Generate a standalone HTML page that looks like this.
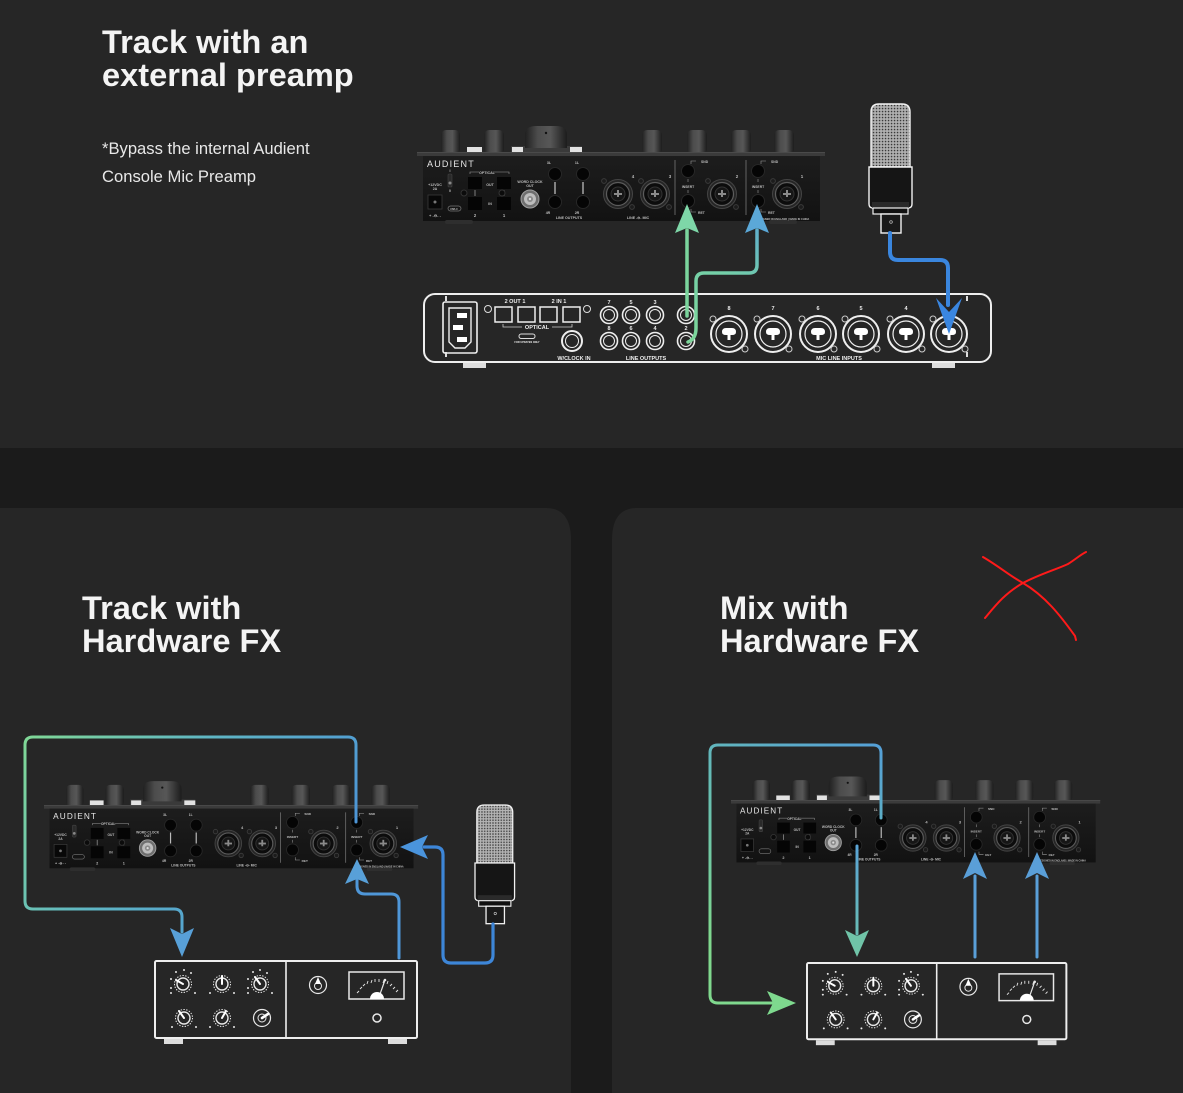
<!DOCTYPE html>
<html><head><meta charset="utf-8"><style>
html,body{margin:0;padding:0;background:#1b1b1b;}
svg{display:block;}
.dt{font-family:"Liberation Sans",sans-serif;font-weight:bold;fill:#bdbdbd;}
.wt{font-family:"Liberation Sans",sans-serif;font-weight:bold;fill:#eeeeee;}
</style></head><body>
<svg width="1183" height="1093" viewBox="0 0 1183 1093" xmlns="http://www.w3.org/2000/svg">
<defs>
  <linearGradient id="kg" x1="0" y1="0" x2="1" y2="0">
    <stop offset="0" stop-color="#202020"/><stop offset="0.3" stop-color="#4c4c4c"/>
    <stop offset="0.6" stop-color="#575757"/><stop offset="1" stop-color="#1c1c1c"/>
  </linearGradient>
  <linearGradient id="bodyg" x1="0" y1="0" x2="0" y2="1">
    <stop offset="0" stop-color="#1d1d1d"/><stop offset="1" stop-color="#121212"/>
  </linearGradient>
  <pattern id="mesh" width="3" height="3" patternUnits="userSpaceOnUse">
    <rect width="3" height="3" fill="#b5b5b5"/><rect x="0.8" y="0.8" width="1.5" height="1.5" fill="#3a3a3a"/>
  </pattern>
  <linearGradient id="gTop2" gradientUnits="userSpaceOnUse" x1="696" y1="340" x2="757" y2="210">
    <stop offset="0" stop-color="#7cd69a"/><stop offset="0.5" stop-color="#74cfa8"/><stop offset="1" stop-color="#5aa6d8"/>
  </linearGradient>
  <linearGradient id="gBL" gradientUnits="userSpaceOnUse" x1="25" y1="737" x2="300" y2="930">
    <stop offset="0" stop-color="#80d896"/><stop offset="0.45" stop-color="#5fb6c4"/><stop offset="1" stop-color="#4b92d8"/>
  </linearGradient>
  <linearGradient id="gBR" gradientUnits="userSpaceOnUse" x1="740" y1="960" x2="885" y2="745">
    <stop offset="0" stop-color="#80d98e"/><stop offset="0.5" stop-color="#66bdb4"/><stop offset="1" stop-color="#549fd8"/>
  </linearGradient>
  <linearGradient id="g4R" gradientUnits="userSpaceOnUse" x1="857" y1="846" x2="857" y2="957">
    <stop offset="0" stop-color="#5aa4d6"/><stop offset="1" stop-color="#6cc2ac"/>
  </linearGradient>

  <g id="xlrD">
    <circle r="14.5" fill="#252525" stroke="#444" stroke-width="1"/>
    <circle r="11.5" fill="#0c0c0c" stroke="#5c5c5c" stroke-width="1.2"/>
    <circle r="7" fill="#161616" stroke="#333"/>
    <rect x="-4" y="-1" width="8" height="2" fill="#8a8a8a"/>
    <rect x="-1" y="-4" width="2" height="7" fill="#8a8a8a"/>
    <circle cx="-14" cy="-13" r="2.4" fill="#1c1c1c" stroke="#3a3a3a"/>
    <circle cx="14" cy="13" r="2.4" fill="#1c1c1c" stroke="#3a3a3a"/>
  </g>
  <g id="xlrW">
    <circle r="18" fill="none" stroke="#eee" stroke-width="2"/>
    <circle r="13" fill="none" stroke="#eee" stroke-width="1.2"/>
    <path d="M-7,-2 Q-7,-6 -3,-6 H3 Q7,-6 7,-2 Q7,1 3,1 H1.5 V6 H-1.5 V1 H-3 Q-7,1 -7,-2 Z" fill="#fff"/>
    <circle cx="-16" cy="-15" r="3" fill="none" stroke="#ccc" stroke-width="1"/>
    <circle cx="16" cy="15" r="3" fill="none" stroke="#ccc" stroke-width="1"/>
  </g>
  <g id="jackW">
    <circle r="8.5" fill="none" stroke="#eee" stroke-width="1.6"/>
    <circle r="5.5" fill="none" stroke="#eee" stroke-width="1"/>
  </g>

  <g id="devS">
    <rect x="24" y="-22" width="19" height="24" rx="5" fill="url(#kg)"/>
    <rect x="67" y="-22" width="20" height="24" rx="5" fill="url(#kg)"/>
    <rect x="225" y="-22" width="20" height="24" rx="5" fill="url(#kg)"/>
    <rect x="270" y="-22" width="20" height="24" rx="5" fill="url(#kg)"/>
    <rect x="314" y="-22" width="20" height="24" rx="5" fill="url(#kg)"/>
    <rect x="357" y="-22" width="20" height="24" rx="5" fill="url(#kg)"/>
    <rect x="94" y="-6" width="71" height="6" fill="#3a3a3a"/>
    <rect x="50" y="-5" width="15" height="5" fill="#e2e2e2"/>
    <rect x="95" y="-5" width="11" height="5" fill="#e2e2e2"/>
    <rect x="153" y="-5" width="12" height="5" fill="#e2e2e2"/>
    <path d="M108,-4 V-17 Q108,-26 119,-26 H139 Q150,-26 150,-17 V-4 Z" fill="url(#kg)"/>
    <circle cx="129" cy="-19" r="1.2" fill="#111"/>
    <rect x="0" y="0" width="408" height="4" fill="#3b3b3b"/>
    <rect x="0" y="0" width="408" height="1" fill="#4a4a4a"/>
    <rect x="6" y="4" width="397" height="65" fill="url(#bodyg)"/>
    <rect x="28" y="68" width="28" height="4" rx="2" fill="#2e2e2e"/>
    <rect x="352" y="68" width="28" height="4" rx="2" fill="#2e2e2e"/>
    <rect x="11" y="43" width="14" height="14" fill="#080808" stroke="#3a3a3a" stroke-width="0.8"/>
    <circle cx="18" cy="50" r="1.5" fill="#777"/>
    <rect x="31" y="22" width="4" height="13" rx="1" fill="#2a2a2a" stroke="#444" stroke-width="0.6"/>
    <circle cx="33" cy="31" r="1.5" fill="#888"/>
    <rect x="31" y="54" width="13" height="5" rx="2.5" fill="none" stroke="#777" stroke-width="0.7"/>
    <rect x="51" y="25" width="14" height="12" fill="#050505"/>
    <rect x="80" y="25" width="14" height="12" fill="#050505"/>
    <rect x="51" y="45" width="14" height="13" fill="#050505"/>
    <rect x="80" y="45" width="14" height="13" fill="#050505"/>
    <line x1="58" y1="38" x2="58" y2="44" stroke="#999" stroke-width="0.8"/>
    <line x1="87" y1="38" x2="87" y2="44" stroke="#999" stroke-width="0.8"/>
    <path d="M53,22 V20 H62 M77,20 H92 V22" fill="none" stroke="#999" stroke-width="0.6"/>
    <circle cx="47" cy="41" r="3" fill="#0b0b0b" stroke="#333"/>
    <circle cx="85" cy="41" r="3" fill="#0b0b0b" stroke="#333"/>
    <circle cx="113" cy="47" r="9" fill="#6f6f6f" stroke="#a0a0a0"/>
    <circle cx="113" cy="47" r="6" fill="#bdbdbd"/>
    <circle cx="113" cy="47" r="3" fill="#8a8a8a"/>
    <circle cx="113" cy="47" r="1.2" fill="#ddd"/>
    <circle cx="138" cy="22" r="6.5" fill="#050505" stroke="#272727"/>
    <circle cx="138" cy="50" r="6.5" fill="#050505" stroke="#272727"/>
    <circle cx="166" cy="22" r="6.5" fill="#050505" stroke="#272727"/>
    <circle cx="166" cy="50" r="6.5" fill="#050505" stroke="#272727"/>
    <line x1="138" y1="30" x2="138" y2="42" stroke="#bbb" stroke-width="1.3"/>
    <line x1="166" y1="30" x2="166" y2="42" stroke="#bbb" stroke-width="1.3"/>
    <use href="#xlrD" x="201" y="42"/>
    <use href="#xlrD" x="238" y="42"/>
    <use href="#xlrD" x="305" y="42"/>
    <use href="#xlrD" x="370" y="42"/>
    <line x1="258" y1="8" x2="258" y2="63" stroke="#777" stroke-width="0.8"/>
    <line x1="329" y1="8" x2="329" y2="63" stroke="#777" stroke-width="0.8"/>
    <circle cx="271" cy="19" r="6.5" fill="#050505" stroke="#272727"/>
    <circle cx="271" cy="49" r="6.5" fill="#050505" stroke="#272727"/>
    <circle cx="341" cy="19" r="6.5" fill="#050505" stroke="#272727"/>
    <circle cx="341" cy="49" r="6.5" fill="#050505" stroke="#272727"/>
    <path d="M274,12 V9 H279 M271,27 V30 M271,38 V41 M274,57 V60 H279" fill="none" stroke="#999" stroke-width="0.6"/>
    <path d="M344,12 V9 H349 M341,27 V30 M341,38 V41 M344,57 V60 H349" fill="none" stroke="#999" stroke-width="0.6"/>
  </g>

  <g id="fx">
    <rect x="0" y="0" width="262" height="77" rx="1.5" fill="none" stroke="#eee" stroke-width="2"/>
    <line x1="131" y1="0" x2="131" y2="77" stroke="#eee" stroke-width="1.6"/>
    <rect x="9" y="78" width="19" height="5" fill="#dcdcdc"/>
    <rect x="233" y="78" width="19" height="5" fill="#dcdcdc"/>
    <g fill="none" stroke="#e8e8e8">
      <circle cx="28" cy="23" r="8.5" stroke-dasharray="1.4 1.4" stroke-width="1"/>
      <circle cx="28" cy="23" r="6" stroke-width="1.4"/>
      <circle cx="67" cy="23" r="8.5" stroke-dasharray="1.4 1.4" stroke-width="1"/>
      <circle cx="67" cy="23" r="6" stroke-width="1.4"/>
      <circle cx="105" cy="23" r="8.5" stroke-dasharray="1.4 1.4" stroke-width="1"/>
      <circle cx="105" cy="23" r="6" stroke-width="1.4"/>
      <circle cx="29" cy="57" r="8.5" stroke-dasharray="1.4 1.4" stroke-width="1"/>
      <circle cx="29" cy="57" r="6" stroke-width="1.4"/>
      <circle cx="67" cy="57" r="8.5" stroke-dasharray="1.4 1.4" stroke-width="1"/>
      <circle cx="67" cy="57" r="6" stroke-width="1.4"/>
      <circle cx="107" cy="57" r="8.5" stroke-width="1.2"/>
      <circle cx="107" cy="57" r="4" stroke-width="1"/>
      <circle cx="163" cy="24" r="8.5" stroke-width="1.2"/>
      <circle cx="163" cy="25" r="3.5" stroke-width="1"/>
      <rect x="194" y="11" width="55" height="27" stroke-width="1.5"/>
      <circle cx="222" cy="57" r="4" stroke-width="1.5"/>
    </g>
    <g stroke="#ffffff" stroke-width="2" stroke-linecap="round">
      <line x1="28" y1="23" x2="21" y2="19"/>
      <line x1="67" y1="23" x2="67" y2="15"/>
      <line x1="105" y1="23" x2="100" y2="16"/>
      <line x1="29" y1="57" x2="24" y2="50"/>
      <line x1="67" y1="57" x2="71" y2="50"/>
      <line x1="107" y1="57" x2="113" y2="53" stroke-width="2.6"/>
    </g>
    <path d="M163,16 L160,23 H166 Z" fill="#fff"/>
    <g fill="#e8e8e8">
      <circle cx="16" cy="18" r="1"/><circle cx="16" cy="27" r="1"/><circle cx="21" cy="11" r="1"/><circle cx="29" cy="9" r="1"/><circle cx="36" cy="12" r="1"/><circle cx="40" cy="32" r="1"/><circle cx="16" cy="32" r="1"/>
      <circle cx="55" cy="32" r="1"/><circle cx="79" cy="32" r="1"/>
      <circle cx="93" cy="18" r="1"/><circle cx="93" cy="27" r="1"/><circle cx="98" cy="11" r="1"/><circle cx="105" cy="9" r="1"/><circle cx="112" cy="12" r="1"/><circle cx="117" cy="32" r="1"/><circle cx="93" cy="32" r="1"/>
      <circle cx="17" cy="66" r="1"/><circle cx="41" cy="66" r="1"/>
      <circle cx="55" cy="66" r="1"/><circle cx="79" cy="66" r="1"/>
    </g>
    <g stroke="#e8e8e8" stroke-width="0.9">
      <line x1="202" y1="32" x2="204" y2="30"/><line x1="205" y1="28" x2="207" y2="26"/><line x1="208" y1="25" x2="210" y2="23"/>
      <line x1="212" y1="23" x2="213" y2="20"/><line x1="216" y1="22" x2="217" y2="19"/><line x1="220" y1="21" x2="220" y2="18"/>
      <line x1="224" y1="21" x2="224" y2="18"/><line x1="228" y1="22" x2="229" y2="19"/><line x1="232" y1="23" x2="233" y2="20"/>
      <line x1="235" y1="25" x2="237" y2="23"/><line x1="238" y1="28" x2="240" y2="26"/><line x1="241" y1="31" x2="243" y2="29"/>
      <line x1="224" y1="36" x2="230" y2="19" stroke-width="1.2"/>
    </g>
    <circle cx="230" cy="19" r="1.3" fill="#e8e8e8"/>
    <path d="M215,38 A7,7 0 0 1 229,38 Z" fill="#fff"/>
  </g>

  <g id="mic">
    <path d="M2,63 V8 Q2,0 10,0 H33 Q41,0 41,8 V63 Z" fill="url(#mesh)" stroke="#f2f2f2" stroke-width="1.4"/>
    <path d="M0,63 H43 V100 Q43,104 39,104 H4 Q0,104 0,100 Z" fill="#151515" stroke="#f2f2f2" stroke-width="1.4"/>
    <rect x="3" y="98" width="37" height="6" fill="#2a2a2a"/>
    <rect x="4" y="104" width="35" height="6" fill="#111" stroke="#f2f2f2" stroke-width="1.2"/>
    <rect x="12" y="110" width="20" height="19" fill="#1a1a1a" stroke="#f2f2f2" stroke-width="1.4"/>
    <circle cx="22" cy="118" r="1.3" fill="none" stroke="#ccc" stroke-width="0.7"/>
  </g>
</defs>

<rect x="0" y="0" width="1183" height="1093" fill="#1b1b1b"/>
<rect x="0" y="0" width="1183" height="448" fill="#262626"/>
<path d="M0,508 H546 Q571,508 571,540 V1093 H0 Z" fill="#262626"/>
<path d="M637,508 H1183 V1093 H612 V540 Q612,508 637,508 Z" fill="#262626"/>

<g font-family="Liberation Sans, sans-serif" font-weight="bold" font-size="32.6" fill="#f4f4f4">
  <text x="102" y="53">Track with an</text>
  <text x="102" y="86">external preamp</text>
  <text x="82" y="619">Track with</text>
  <text x="82" y="652">Hardware FX</text>
  <text x="720" y="619">Mix with</text>
  <text x="720" y="652">Hardware FX</text>
</g>
<g font-family="Liberation Sans, sans-serif" font-size="16.6" fill="#e8e8e8">
  <text x="102" y="154">*Bypass the internal Audient</text>
  <text x="102" y="182">Console Mic Preamp</text>
</g>

<!-- TOP DEVICE -->
<g transform="translate(417,152)">
  <use href="#devS"/>
  <g class="dt">
    <text x="10" y="15" font-size="9" font-weight="normal" letter-spacing="1.2" fill="#e6e6e6">AUDIENT</text>
    <text x="18" y="34" font-size="3.6" text-anchor="middle">+12VDC</text>
    <text x="18" y="38" font-size="3.6" text-anchor="middle">2A</text>
    <text x="18" y="65" font-size="4" text-anchor="middle">+ -⊖- -</text>
    <text x="33" y="20" font-size="3.5" text-anchor="middle">I</text>
    <text x="33" y="40" font-size="3.5" text-anchor="middle">0</text>
    <text x="37" y="58" font-size="2.5" text-anchor="middle">USB-C</text>
    <text x="70" y="22" font-size="3.6" text-anchor="middle">OPTICAL</text>
    <text x="73" y="34" font-size="3.6" text-anchor="middle">OUT</text>
    <text x="73" y="53" font-size="3.6" text-anchor="middle">IN</text>
    <text x="58" y="65" font-size="4.2" text-anchor="middle">2</text>
    <text x="87" y="65" font-size="4.2" text-anchor="middle">1</text>
    <text x="113" y="31" font-size="3.6" text-anchor="middle">WORD CLOCK</text>
    <text x="113" y="35" font-size="3.6" text-anchor="middle">OUT</text>
    <text x="132" y="12" font-size="3.6" text-anchor="middle">3L</text>
    <text x="160" y="12" font-size="3.6" text-anchor="middle">1L</text>
    <text x="131" y="62" font-size="3.6" text-anchor="middle">4R</text>
    <text x="160" y="62" font-size="3.6" text-anchor="middle">2R</text>
    <text x="152" y="67" font-size="3.6" text-anchor="middle">LINE OUTPUTS</text>
    <text x="216" y="26" font-size="4.4" text-anchor="middle">4</text>
    <text x="253" y="26" font-size="4.4" text-anchor="middle">3</text>
    <text x="221" y="67" font-size="3.6" text-anchor="middle">LINE -⊖- MIC</text>
    <text x="284" y="11" font-size="3.4">SND</text>
    <text x="271" y="36" font-size="3.4" text-anchor="middle">INSERT</text>
    <text x="281" y="62" font-size="3.4">RET</text>
    <text x="320" y="26" font-size="4.4" text-anchor="middle">2</text>
    <text x="354" y="11" font-size="3.4">SND</text>
    <text x="341" y="36" font-size="3.4" text-anchor="middle">INSERT</text>
    <text x="351" y="62" font-size="3.4">RET</text>
    <text x="385" y="26" font-size="4.4" text-anchor="middle">1</text>
    <text x="366" y="68" font-size="2.6" text-anchor="middle">DESIGNED IN ENGLAND  |  MADE IN CHINA</text>
  </g>
</g>

<!-- TOP RACK UNIT -->
<g>
  <rect x="424" y="294" width="567" height="68" rx="11" fill="none" stroke="#eee" stroke-width="2"/>
  <rect x="463" y="363" width="23" height="5" fill="#ddd"/>
  <rect x="932" y="363" width="23" height="5" fill="#ddd"/>
  <rect x="445" y="296" width="2" height="5" fill="#ddd"/>
  <rect x="445" y="352" width="2" height="5" fill="#ddd"/>
  <rect x="966" y="296" width="2" height="5" fill="#ddd"/>
  <rect x="966" y="352" width="2" height="5" fill="#ddd"/>
  <rect x="443" y="302" width="34" height="51" rx="2" fill="none" stroke="#eee" stroke-width="1.6"/>
  <path d="M449,308 H471 V342 L465,348 H455 L449,342 Z" fill="none" stroke="#eee" stroke-width="1.4"/>
  <rect x="457" y="313" width="10" height="5" fill="#fff"/>
  <rect x="453" y="325" width="10" height="5" fill="#fff"/>
  <rect x="457" y="337" width="10" height="5" fill="#fff"/>
  <circle cx="488" cy="309" r="3.5" fill="none" stroke="#ddd" stroke-width="1"/>
  <circle cx="587" cy="309" r="3.5" fill="none" stroke="#ddd" stroke-width="1"/>
  <rect x="495" y="307" width="17" height="15" fill="none" stroke="#eee" stroke-width="1.5"/>
  <rect x="518" y="307" width="17" height="15" fill="none" stroke="#eee" stroke-width="1.5"/>
  <rect x="540" y="307" width="17" height="15" fill="none" stroke="#eee" stroke-width="1.5"/>
  <rect x="563" y="307" width="17" height="15" fill="none" stroke="#eee" stroke-width="1.5"/>
  <path d="M503,324 V327 H522 M552,327 H572 V324" fill="none" stroke="#ccc" stroke-width="0.8"/>
  <rect x="519" y="334" width="16" height="4.5" rx="2.2" fill="none" stroke="#ddd" stroke-width="1"/>
  <circle cx="572" cy="341" r="10" fill="none" stroke="#eee" stroke-width="2"/>
  <circle cx="572" cy="341" r="6.5" fill="none" stroke="#eee" stroke-width="1"/>
  <use href="#jackW" x="609" y="315"/><use href="#jackW" x="631" y="315"/><use href="#jackW" x="655" y="315"/><use href="#jackW" x="686" y="315"/>
  <use href="#jackW" x="609" y="341"/><use href="#jackW" x="631" y="341"/><use href="#jackW" x="655" y="341"/><use href="#jackW" x="686" y="341"/>
  <use href="#xlrW" x="729" y="334"/><use href="#xlrW" x="773" y="334"/><use href="#xlrW" x="818" y="334"/>
  <use href="#xlrW" x="861" y="334"/><use href="#xlrW" x="906" y="334"/><use href="#xlrW" x="949" y="334"/>
  <g class="wt" font-size="5.5" text-anchor="middle">
    <text x="515" y="303">2  OUT  1</text>
    <text x="559" y="303">2  IN  1</text>
    <text x="537" y="329">OPTICAL</text>
    <text x="527" y="343" font-size="2.5">FOR UPDATES ONLY</text>
    <text x="574" y="360">W/CLOCK IN</text>
    <text x="609" y="304">7</text><text x="631" y="304">5</text><text x="655" y="304">3</text>
    <text x="609" y="330">8</text><text x="631" y="330">6</text><text x="655" y="330">4</text><text x="686" y="330">2</text>
    <text x="646" y="360">LINE OUTPUTS</text>
    <text x="729" y="310">8</text><text x="773" y="310">7</text><text x="818" y="310">6</text><text x="861" y="310">5</text><text x="906" y="310">4</text>
    <text x="839" y="360">MIC LINE INPUTS</text>
  </g>
</g>

<use href="#mic" transform="translate(869,104)"/>

<g fill="none" stroke-linecap="round" stroke-linejoin="round">
  <path d="M687,316 V230" stroke="#7bd59d" stroke-width="3.5"/>
  <path d="M688,342 Q696,339 696,328 V281 Q696,273 704,273 H749 Q757,273 757,265 V230" stroke="url(#gTop2)" stroke-width="3.5"/>
  <path d="M890,233 V252 Q890,260 898,260 H940 Q948,260 948,268 V305" stroke="#3a86de" stroke-width="4"/>
</g>
<path d="M687,204 L699,233 L687,228 L675,233 Z" fill="#7ed7a8"/>
<path d="M757,204 L769,233 L757,228 L745,233 Z" fill="#5ba8d8"/>
<path d="M949,334 L962,298 L949,312 L936,298 Z" fill="#3a86e0"/>

<!-- BOTTOM LEFT -->
<g transform="translate(44,805) scale(0.917)">
  <use href="#devS"/>
  <g class="dt">
    <text x="10" y="15" font-size="9" font-weight="normal" letter-spacing="1.2" fill="#e6e6e6">AUDIENT</text>
    <text x="18" y="34" font-size="3.6" text-anchor="middle">+12VDC</text>
    <text x="18" y="38" font-size="3.6" text-anchor="middle">2A</text>
    <text x="18" y="65" font-size="4" text-anchor="middle">+ -⊖- -</text>
    <text x="70" y="22" font-size="3.6" text-anchor="middle">OPTICAL</text>
    <text x="73" y="34" font-size="3.6" text-anchor="middle">OUT</text>
    <text x="73" y="53" font-size="3.6" text-anchor="middle">IN</text>
    <text x="58" y="65" font-size="4.2" text-anchor="middle">2</text>
    <text x="87" y="65" font-size="4.2" text-anchor="middle">1</text>
    <text x="113" y="31" font-size="3.6" text-anchor="middle">WORD CLOCK</text>
    <text x="113" y="35" font-size="3.6" text-anchor="middle">OUT</text>
    <text x="132" y="12" font-size="3.6" text-anchor="middle">3L</text>
    <text x="160" y="12" font-size="3.6" text-anchor="middle">1L</text>
    <text x="131" y="62" font-size="3.6" text-anchor="middle">4R</text>
    <text x="160" y="62" font-size="3.6" text-anchor="middle">2R</text>
    <text x="152" y="67" font-size="3.6" text-anchor="middle">LINE OUTPUTS</text>
    <text x="216" y="26" font-size="4.4" text-anchor="middle">4</text>
    <text x="253" y="26" font-size="4.4" text-anchor="middle">3</text>
    <text x="221" y="67" font-size="3.6" text-anchor="middle">LINE -⊖- MIC</text>
    <text x="284" y="11" font-size="3.4">SND</text>
    <text x="271" y="36" font-size="3.4" text-anchor="middle">INSERT</text>
    <text x="281" y="62" font-size="3.4">RET</text>
    <text x="320" y="26" font-size="4.4" text-anchor="middle">2</text>
    <text x="354" y="11" font-size="3.4">SND</text>
    <text x="341" y="36" font-size="3.4" text-anchor="middle">INSERT</text>
    <text x="351" y="62" font-size="3.4">RET</text>
    <text x="385" y="26" font-size="4.4" text-anchor="middle">1</text>
    <text x="366" y="68" font-size="2.6" text-anchor="middle">DESIGNED IN ENGLAND  |  MADE IN CHINA</text>
  </g>
</g>
<use href="#fx" transform="translate(155,961)"/>
<use href="#mic" transform="translate(475,805) scale(0.92)"/>
<g fill="none" stroke-linecap="round" stroke-linejoin="round">
  <path d="M356,822 V745 Q356,737 348,737 H33 Q25,737 25,745 V901 Q25,909 33,909 H174 Q182,909 182,917 V932" stroke="url(#gBL)" stroke-width="3"/>
  <path d="M399,958 V902 Q399,894 391,894 H365 Q357,894 357,886 V880" stroke="#4f97d8" stroke-width="3"/>
  <path d="M493,924 V955 Q493,963 485,963 H451 Q443,963 443,955 V855 Q443,847 435,847 H424" stroke="#3d86d8" stroke-width="3.2"/>
</g>
<path d="M182,957 L194,928 L182,934 L170,928 Z" fill="#58a0d8"/>
<path d="M357,859 L369,884 L357,879 L345,884 Z" fill="#58a0d8"/>
<path d="M400,847 L428,835 L422,847 L428,859 Z" fill="#4a94dc"/>

<!-- BOTTOM RIGHT -->
<g transform="translate(731,800) scale(0.905)">
  <use href="#devS"/>
  <g class="dt">
    <text x="10" y="15" font-size="9" font-weight="normal" letter-spacing="1.2" fill="#e6e6e6">AUDIENT</text>
    <text x="18" y="34" font-size="3.6" text-anchor="middle">+12VDC</text>
    <text x="18" y="38" font-size="3.6" text-anchor="middle">2A</text>
    <text x="18" y="65" font-size="4" text-anchor="middle">+ -⊖- -</text>
    <text x="70" y="22" font-size="3.6" text-anchor="middle">OPTICAL</text>
    <text x="73" y="34" font-size="3.6" text-anchor="middle">OUT</text>
    <text x="73" y="53" font-size="3.6" text-anchor="middle">IN</text>
    <text x="58" y="65" font-size="4.2" text-anchor="middle">2</text>
    <text x="87" y="65" font-size="4.2" text-anchor="middle">1</text>
    <text x="113" y="31" font-size="3.6" text-anchor="middle">WORD CLOCK</text>
    <text x="113" y="35" font-size="3.6" text-anchor="middle">OUT</text>
    <text x="132" y="12" font-size="3.6" text-anchor="middle">3L</text>
    <text x="160" y="12" font-size="3.6" text-anchor="middle">1L</text>
    <text x="131" y="62" font-size="3.6" text-anchor="middle">4R</text>
    <text x="160" y="62" font-size="3.6" text-anchor="middle">2R</text>
    <text x="152" y="67" font-size="3.6" text-anchor="middle">LINE OUTPUTS</text>
    <text x="216" y="26" font-size="4.4" text-anchor="middle">4</text>
    <text x="253" y="26" font-size="4.4" text-anchor="middle">3</text>
    <text x="221" y="67" font-size="3.6" text-anchor="middle">LINE -⊖- MIC</text>
    <text x="284" y="11" font-size="3.4">SND</text>
    <text x="271" y="36" font-size="3.4" text-anchor="middle">INSERT</text>
    <text x="281" y="62" font-size="3.4">RET</text>
    <text x="320" y="26" font-size="4.4" text-anchor="middle">2</text>
    <text x="354" y="11" font-size="3.4">SND</text>
    <text x="341" y="36" font-size="3.4" text-anchor="middle">INSERT</text>
    <text x="351" y="62" font-size="3.4">RET</text>
    <text x="385" y="26" font-size="4.4" text-anchor="middle">1</text>
    <text x="366" y="68" font-size="2.6" text-anchor="middle">DESIGNED IN ENGLAND  |  MADE IN CHINA</text>
  </g>
</g>
<use href="#fx" transform="translate(807,963) scale(0.99)"/>
<g fill="none" stroke-linecap="round" stroke-linejoin="round">
  <path d="M881,818 V753 Q881,745 873,745 H718 Q710,745 710,753 V995 Q710,1003 718,1003 H772" stroke="url(#gBR)" stroke-width="3"/>
  <path d="M857,846 V934" stroke="url(#g4R)" stroke-width="3"/>
  <path d="M975,957 V876" stroke="#5a9fd8" stroke-width="3"/>
  <path d="M1037,957 V876" stroke="#5a9fd8" stroke-width="3"/>
</g>
<path d="M796,1003 L767,991 L773,1003 L767,1015 Z" fill="#7ed98e"/>
<path d="M857,957 L869,930 L857,936 L845,930 Z" fill="#70c4a8"/>
<path d="M975,852 L987,879 L975,873 L963,879 Z" fill="#5a9fd8"/>
<path d="M1037,852 L1049,879 L1037,873 L1025,879 Z" fill="#5a9fd8"/>

<g fill="none" stroke="#ff1a1a" stroke-width="2" stroke-linecap="round">
  <path d="M983,557 C1000,567 1010,576 1023,583 C1045,596 1060,615 1075,636 L1076,640"/>
  <path d="M985,618 C995,606 1005,593 1023,583 C1040,574 1055,570 1068,564 C1076,559 1080,555 1086,552"/>
</g>
</svg>
</body></html>
